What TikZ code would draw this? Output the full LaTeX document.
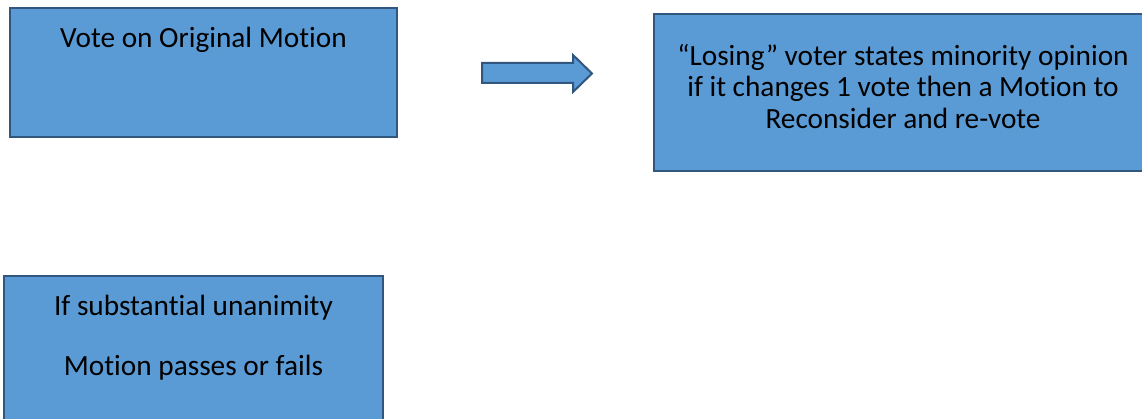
\documentclass[tikz,border=0pt]{standalone}
\usepackage{fontspec}
\setmainfont[Ligatures=NoCommon]{Carlito}
\usepackage{xcolor}
\usetikzlibrary{positioning}
\definecolor{boxfill}{HTML}{5B9BD5}
\definecolor{boxline}{HTML}{32577F}

\begin{document}
\begin{tikzpicture}[x=1pt,y=-1pt,
		box/.style={draw=boxline, fill=boxfill, line width=2pt, inner sep=0pt},
		txt/.style={inner sep=0pt, align=center, font=\fontsize{29.3}{31.5}\selectfont}]
	\useasboundingbox (0,0) rectangle (1142,419);
	
	\node[box, minimum width=387pt, minimum height=129pt] (vote) at (203.5,72.5) {};
	\node[txt, below=20pt of vote.north] (votetxt) {Vote on Original Motion};
	
	\draw[box] (482,63) -- (573,63) -- (573,55) -- (592,73.5) -- (573,92) -- (573,83) -- (482,83) -- cycle;
	
	\node[box, minimum width=498pt, minimum height=157pt] (recon) at (903,92.5) {};
	\node[txt, below=31pt of recon.north] (recontxt) {“Losing” voter states minority opinion\\if it changes 1 vote then a Motion to\\Reconsider and re-vote};
	
	\node[box, minimum width=379pt, minimum height=154pt] (unan) at (193.5,353) {};
	\node[txt, below=20pt of unan.north] (unantxt) {If substantial unanimity\\[28.5pt]Motion passes or fails};
\end{tikzpicture}
\end{document}
